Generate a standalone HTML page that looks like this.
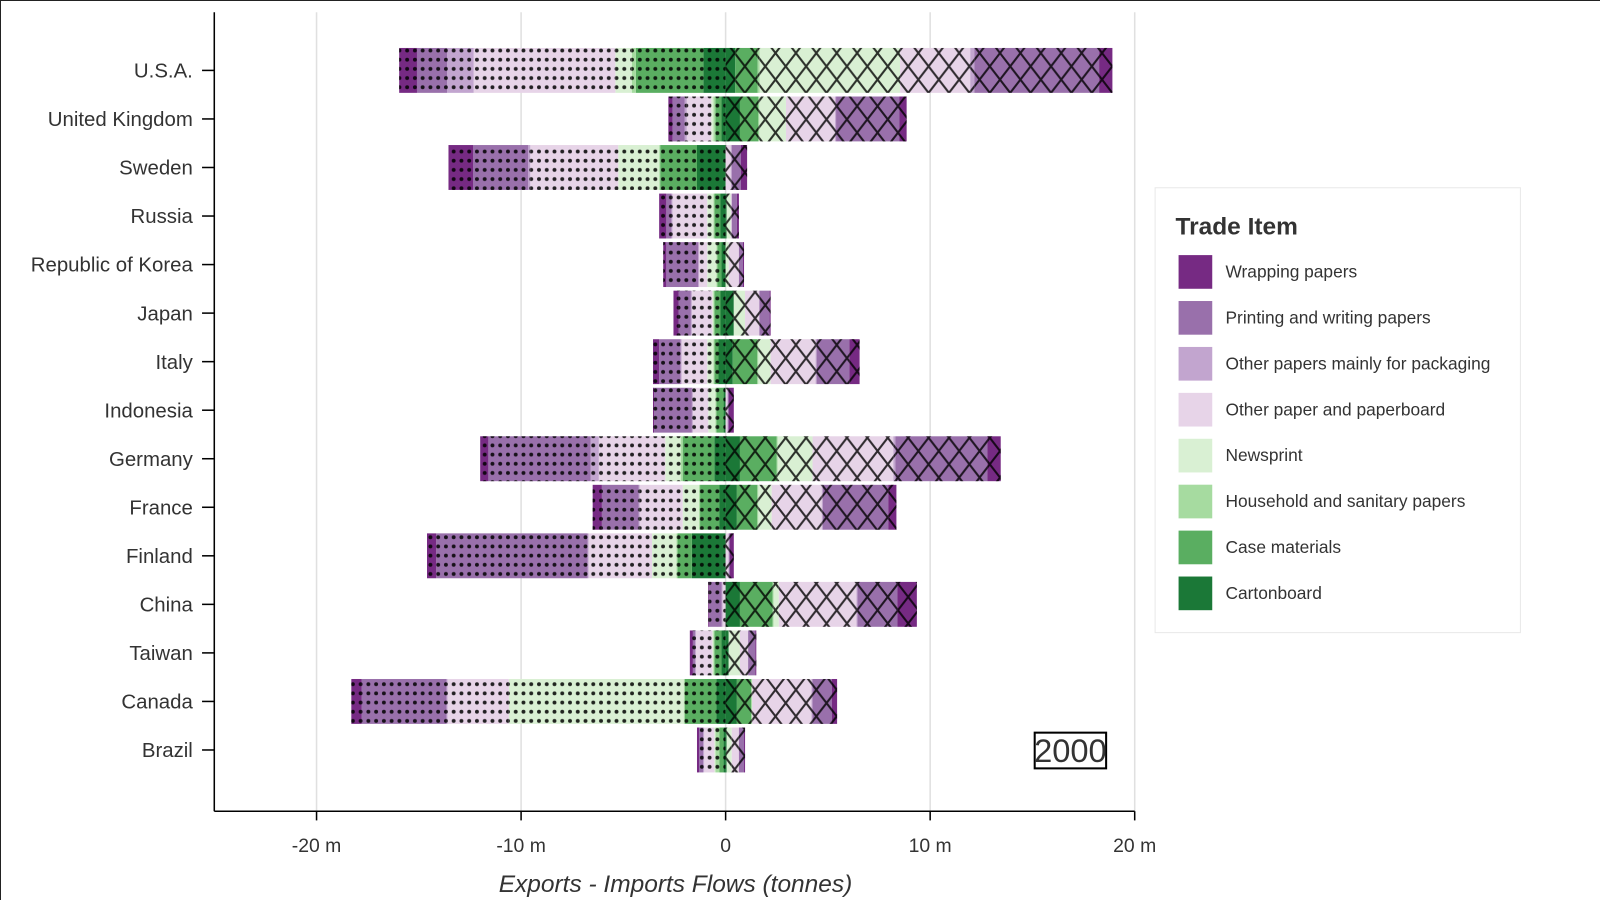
<!DOCTYPE html>
<html><head><meta charset="utf-8"><style>
body{margin:0;background:#fff;font-family:"Liberation Sans",sans-serif;}
svg{display:block}
</style></head><body>
<svg id="chart" width="1600" height="900" viewBox="0 0 1600 900">
<defs>
<pattern id="dots" width="7.6" height="9" patternUnits="userSpaceOnUse"><circle cx="3.8" cy="4.5" r="1.9" fill="#000"/></pattern>
<pattern id="cross" width="20" height="26" patternUnits="userSpaceOnUse"><path d="M0 0 L20 26 M20 0 L0 26" stroke="#000" stroke-width="2" fill="none"/></pattern>
</defs>
<rect x="0" y="0" width="1600" height="900" fill="#fff"/>
<line x1="0.5" y1="0" x2="0.5" y2="900" stroke="#222" stroke-width="1"/>
<line x1="0" y1="0.5" x2="1600" y2="0.5" stroke="#222" stroke-width="1"/>
<g transform="scale(1.02041)">
<g id="grid"></g><g id="bars"></g><g id="axes"></g>
<g>
<rect x="1132" y="184" width="358" height="436" fill="#fff" stroke="#e8e8e8"/>
<text x="1152" y="230" font-size="24" font-weight="bold" fill="#333">Trade Item</text>
<g id="legend"></g>
</g>
<g>
<rect x="1014" y="718" width="70" height="35" fill="#fff" stroke="#000" stroke-width="2"/>
<text x="1049" y="747" font-size="32" text-anchor="middle" fill="#333">2000</text>
</g>
<text x="662" y="874" font-size="24" font-style="italic" text-anchor="middle" fill="#333">Exports - Imports Flows (tonnes)</text>
</g>
</svg>
<script>
const categories=["U.S.A.","United Kingdom","Sweden","Russia","Republic of Korea","Japan","Italy","Indonesia","Germany","France","Finland","China","Taiwan","Canada","Brazil"];
const items=["Wrapping papers","Printing and writing papers","Other papers mainly for packaging","Other paper and paperboard","Newsprint","Household and sanitary papers","Case materials","Cartonboard"];
const colors=["#762a83","#9970ab","#c2a5cf","#e7d4e8","#d9f0d3","#a6dba0","#5aae61","#1b7837"];
// imports (millions of tonnes) per item, per category order
const impWrapping=[0.87,0.2,1.2,0.35,0.15,0.25,0.3,0.05,0.4,0.45,0.45,0.05,0.15,0.5,0.1];
const impPrinting=[1.47,0.6,2.7,0.25,1.55,0.6,1.05,1.85,5.0,1.8,7.4,0.6,0.1,4.15,0.2];
const impOtherPack=[1.3,0.1,0.1,0.05,0.05,0.05,0.05,0.05,0.4,0.05,0.05,0.05,0.05,0.05,0.05];
const impOtherPaper=[6.93,1.2,4.3,1.7,0.4,1.0,1.25,0.75,3.25,2.1,3.1,0.15,0.8,3.0,0.5];
const impNewsprint=[0.8,0.1,2.0,0.3,0.45,0.05,0.3,0.35,0.75,0.8,1.2,0.0,0.05,8.55,0.05];
const impHousehold=[0.2,0.1,0.05,0.05,0.05,0.05,0.05,0.05,0.1,0.05,0.05,0.0,0.05,0.05,0.2];
const impCase=[3.3,0.3,1.8,0.3,0.2,0.3,0.2,0.35,1.55,0.95,0.7,0.0,0.35,1.55,0.2];
const impCarton=[1.09,0.2,1.4,0.25,0.2,0.25,0.35,0.1,0.55,0.3,1.65,0.0,0.2,0.45,0.1];
// exports
const expWrapping=[0.65,0.35,0.3,0.1,0.05,0.05,0.5,0.25,0.65,0.4,0.2,0.95,0.05,0.25,0.05];
const expPrinting=[6.1,3.1,0.45,0.25,0.2,0.5,1.6,0.05,4.5,3.2,0.05,1.95,0.35,0.95,0.25];
const expOtherPack=[0.2,0.05,0.05,0.0,0.0,0.0,0.05,0.0,0.1,0.05,0.0,0.05,0.0,0.05,0.0];
const expOtherPaper=[3.43,2.4,0.25,0.05,0.5,0.7,2.2,0.1,3.95,2.45,0.15,3.8,0.4,2.9,0.35];
const expNewsprint=[6.86,1.3,0.0,0.2,0.15,0.55,0.6,0.0,1.7,0.65,0.0,0.25,0.55,0.0,0.25];
const expHousehold=[0.1,0.05,0.0,0.0,0.0,0.0,0.05,0.0,0.05,0.05,0.0,0.05,0.0,0.05,0.0];
const expCase=[1.1,0.9,0.0,0.0,0.0,0.0,1.2,0.0,1.8,1.0,0.0,1.6,0.0,0.7,0.0];
const expCarton=[0.47,0.7,0.0,0.05,0.0,0.4,0.35,0.0,0.7,0.55,0.0,0.7,0.15,0.55,0.05];
const tickValues=[-20,-10,0,10,20];
const tickLabels=["-20 m","-10 m","0","10 m","20 m"];

const imports=[impWrapping,impPrinting,impOtherPack,impOtherPaper,impNewsprint,impHousehold,impCase,impCarton];
const exportsArr=[expWrapping,expPrinting,expOtherPack,expOtherPaper,expNewsprint,expHousehold,expCase,expCarton];
const NS="http://www.w3.org/2000/svg";
const x0=210,x1=1112,dMin=-25,dMax=20;
const xs=v=>x0+(v-dMin)/(dMax-dMin)*(x1-x0);
const ys=i=>69+i*47.57;
const barH=44;
function mk(tag,attrs,parent){const e=document.createElementNS(NS,tag);for(const k in attrs)e.setAttribute(k,attrs[k]);parent.appendChild(e);return e;}
const grid=document.getElementById('grid'),bars=document.getElementById('bars'),axes=document.getElementById('axes'),legend=document.getElementById('legend');
tickValues.forEach((t,i)=>{
  const gl=mk('line',{x1:xs(t),x2:xs(t),y1:12,y2:795,stroke:'#e0e0e0','stroke-width':1.5},grid);
  
  
  const tk=mk('line',{x1:xs(t),x2:xs(t),y1:795,y2:804,stroke:'#000','stroke-width':1.5},axes);
  
  
  const tl=mk('text',{x:xs(t),y:835,'font-size':19,'text-anchor':'middle',fill:'#333'},axes);
  tl.textContent=tickLabels[i];
  
  
});
categories.forEach((c,ci)=>{
  const y=ys(ci);
  let cum=0;
  for(let k=items.length-1;k>=0;k--){
    const v=imports[k][ci]; if(v<=0)continue;
    const xa=xs(-(cum+v)),xb=xs(-cum);
    const g=mk('g',{},bars);
    
    
    mk('rect',{x:xa,y:y-barH/2,width:xb-xa,height:barH,fill:colors[k]},g);
    mk('rect',{x:xa,y:y-barH/2,width:xb-xa,height:barH,fill:'url(#dots)','fill-opacity':0.85},g);
    cum+=v;
  }
  cum=0;
  for(let k=items.length-1;k>=0;k--){
    const v=exportsArr[k][ci]; if(v<=0)continue;
    const xa=xs(cum),xb=xs(cum+v);
    const g=mk('g',{},bars);
    
    
    mk('rect',{x:xa,y:y-barH/2,width:xb-xa,height:barH,fill:colors[k]},g);
    mk('rect',{x:xa,y:y-barH/2,width:xb-xa,height:barH,fill:'url(#cross)','fill-opacity':0.8},g);
    cum+=v;
  }
  const tk=mk('line',{x1:198,x2:210,y1:y,y2:y,stroke:'#000','stroke-width':1.5},axes);
  
  
  const tl=mk('text',{x:189,y:y+7,'font-size':20,'text-anchor':'end',fill:'#333'},axes);
  tl.textContent=c;
  
  
});
const ya=mk('line',{x1:210,x2:210,y1:12,y2:795,stroke:'#000','stroke-width':1.5},axes);


const xa=mk('line',{x1:210,x2:1112,y1:795,y2:795,stroke:'#000','stroke-width':1.5},axes);


items.forEach((it,i)=>{
  const g=mk('g',{},legend);
  
  
  mk('rect',{x:1155,y:250+i*45,width:33,height:33,fill:colors[i]},g);
  const t=mk('text',{x:1201,y:272+i*45,'font-size':17,fill:'#333'},g);
  t.textContent=it;
});
</script>
</body></html>
